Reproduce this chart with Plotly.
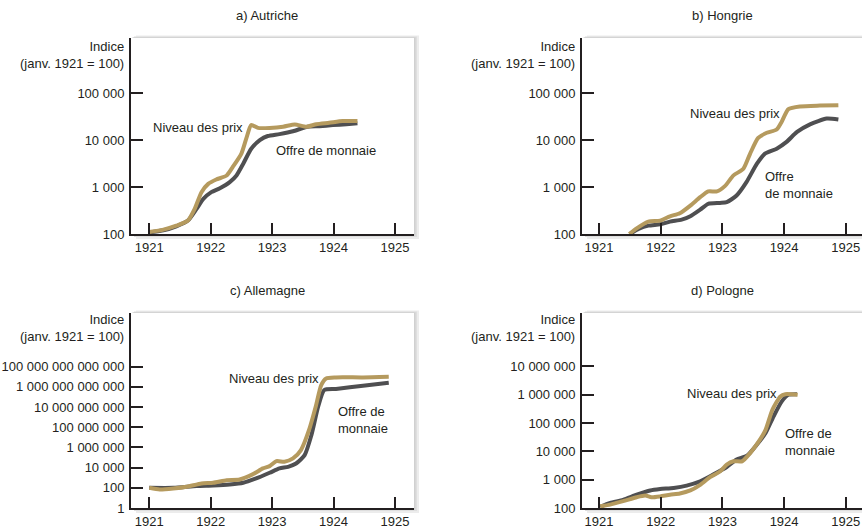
import plotly.graph_objects as go

# ---------------- data ----------------
aut_price_t = [1921.0, 1921.23, 1921.44, 1921.63, 1921.74, 1921.85, 1921.96, 1922.09, 1922.26, 1922.36, 1922.50,
               1922.58, 1922.66, 1922.77, 1922.96, 1923.18, 1923.37, 1923.56, 1923.72, 1923.93, 1924.15, 1924.39]
aut_price_v = [110, 124, 150, 194, 344, 780, 1170, 1450, 1770, 2690, 5180,
               10900, 21000, 18300, 18300, 19400, 21700, 19400, 22000, 23600, 25700, 25700]
aut_money_t = [1921.0, 1921.23, 1921.44, 1921.63, 1921.77, 1921.88, 1922.01, 1922.15, 1922.31, 1922.42, 1922.53,
               1922.66, 1922.80, 1922.93, 1923.12, 1923.34, 1923.56, 1923.77, 1923.99, 1924.21, 1924.39]
aut_money_v = [108, 120, 146, 194, 344, 560, 780, 950, 1280, 1770, 3160,
               6600, 10000, 12300, 13500, 15500, 19200, 19900, 21000, 21900, 22900]

hun_price_t = [1921.49, 1921.61, 1921.80, 1921.99, 1922.15, 1922.31, 1922.48, 1922.64, 1922.77, 1922.91, 1923.04,
               1923.18, 1923.34, 1923.45, 1923.58, 1923.72, 1923.88, 1923.96, 1924.07, 1924.26, 1924.58, 1924.88]
hun_price_v = [100, 132, 184, 193, 239, 277, 404, 610, 810, 810, 1050,
               1780, 2460, 5200, 11200, 14400, 16900, 24600, 46000, 52500, 54800, 56000]
hun_money_t = [1921.50, 1921.64, 1921.80, 1921.99, 1922.15, 1922.34, 1922.48, 1922.64, 1922.77, 1922.96, 1923.07,
               1923.23, 1923.39, 1923.56, 1923.69, 1923.88, 1924.04, 1924.21, 1924.42, 1924.69, 1924.88]
hun_money_v = [100, 128, 151, 161, 184, 203, 239, 330, 440, 460, 476,
               664, 1280, 3160, 5200, 6600, 9200, 15000, 21800, 29000, 27700]

ger_price_t = [1921.0, 1921.17, 1921.39, 1921.61, 1921.85, 1922.04, 1922.26, 1922.47, 1922.69, 1922.85, 1922.96,
               1923.07, 1923.20, 1923.34, 1923.47, 1923.61, 1923.71, 1923.80, 1923.88, 1924.04, 1924.48, 1924.90]
ger_price_v = [100, 68, 85, 126, 270, 316, 575, 676, 2290, 8300, 14100,
               43600, 38000, 81300, 550000, 7.6e7, 1.07e10, 1.5e12, 6.9e12, 8.7e12, 8.7e12, 1.0e13]
ger_money_t = [1921.0, 1921.39, 1921.77, 1922.04, 1922.31, 1922.53, 1922.74, 1922.96, 1923.12, 1923.26, 1923.39,
               1923.53, 1923.64, 1923.75, 1923.85, 1924.04, 1924.48, 1924.90]
ger_money_v = [100, 100, 148, 170, 214, 316, 851, 3090, 8300, 12000, 25700,
               174000, 1.66e7, 1.07e10, 4.9e11, 6.2e11, 1.32e12, 2.57e12]

pol_price_t = [1921.02, 1921.18, 1921.39, 1921.61, 1921.75, 1921.85, 1921.99, 1922.15, 1922.31, 1922.48, 1922.64,
               1922.80, 1922.96, 1923.07, 1923.18, 1923.32, 1923.45, 1923.59, 1923.70, 1923.81, 1923.94, 1924.02, 1924.22]
pol_price_v = [115, 132, 174, 240, 275, 240, 257, 295, 324, 417, 661,
               1230, 1950, 3390, 4470, 4470, 8710, 22400, 57500, 295000, 871000, 1050000, 1000000]
pol_money_t = [1921.02, 1921.18, 1921.39, 1921.61, 1921.83, 1921.99, 1922.21, 1922.42, 1922.64, 1922.85, 1923.07,
               1923.23, 1923.40, 1923.56, 1923.70, 1923.83, 1923.96, 1924.07, 1924.21]
pol_money_v = [110, 151, 195, 295, 417, 468, 513, 617, 871, 1510, 2820,
               5130, 7080, 17400, 44700, 174000, 575000, 1000000, 1050000]

panel_titles = ["a) Autriche", "b) Hongrie", "c) Allemagne", "d) Pologne"]
year_ticks = [1921, 1922, 1923, 1924, 1925]
year_labels = ["1921", "1922", "1923", "1924", "1925"]
yticks_ab = [100, 1000, 10000, 100000]
ylabels_ab = ["100", "1 000", "10 000", "100 000"]
yticks_c = [1, 100, 1e4, 1e6, 1e8, 1e10, 1e12, 1e14]
ylabels_c = ["1", "100", "10 000", "1 000 000", "100 000 000", "10 000 000 000",
             "1 000 000 000 000", "100 000 000 000 000"]
yticks_d = [100, 1000, 1e4, 1e5, 1e6, 1e7]
ylabels_d = ["100", "1 000", "10 000", "100 000", "1 000 000", "10 000 000"]
label_price = "Niveau des prix"
label_money = "Offre de monnaie"
axis_title = "Indice<br>(janv. 1921 = 100)"

# ---------------- styling / layout ----------------
W, H = 862, 531
FONT = "'Liberation Sans', Arial, sans-serif"
TXT = "#231f20"
GOLD = "#b59a5e"
DARK = "#4f4f51"
FS = 13

def px_x(p):
    return p / W

def px_y(p):
    return 1 - p / H

# panel pixel boxes: (left, right, top, bottom)
boxes = [(131, 414, 38, 234), (582, 862, 38, 234), (131, 414, 313, 508), (582, 862, 313, 508)]
xranges = [[1920.702, 1925.311], [1920.724, 1925.263], [1920.702, 1925.311], [1920.724, 1925.263]]
yranges = [[2, 6.18], [2, 6.18], [0, 19.32], [2, 8.89]]
ytv = [(yticks_ab, ylabels_ab), (yticks_ab, ylabels_ab), (yticks_c, ylabels_c), (yticks_d, ylabels_d)]
series = [
    (aut_price_t, aut_price_v, aut_money_t, aut_money_v),
    (hun_price_t, hun_price_v, hun_money_t, hun_money_v),
    (ger_price_t, ger_price_v, ger_money_t, ger_money_v),
    (pol_price_t, pol_price_v, pol_money_t, pol_money_v),
]
# label anchors in data coords (x year, y log10)
price_lbl = [(1921.03, 4.28), (1922.44, 4.58), (1922.27, 12.88), (1922.39, 6.06)]
money_lbl = [(1923.03, 3.79, label_money), (1923.66, 3.04, "Offre<br>de monnaie"),
             (1924.04, 8.72, "Offre de<br>monnaie"), (1923.98, 4.33, "Offre de<br>monnaie")]

fig = go.Figure()
layout = dict(
    width=W, height=H, margin=dict(l=0, r=0, t=0, b=0, pad=0, autoexpand=False),
    paper_bgcolor="white", plot_bgcolor="rgba(0,0,0,0)",
    showlegend=False, font=dict(family=FONT, size=FS, color=TXT),
)
shapes = []
annotations = []

for i in range(4):
    n = "" if i == 0 else str(i + 1)
    xa, ya = "x" + n, "y" + n
    l, r, t, b = boxes[i]
    pt, pv, mt, mv = series[i]
    fig.add_trace(go.Scatter(x=mt, y=mv, xaxis=xa, yaxis=ya, mode="lines",
                             line=dict(color=DARK, width=4, shape="spline", smoothing=0.6)))
    fig.add_trace(go.Scatter(x=pt, y=pv, xaxis=xa, yaxis=ya, mode="lines",
                             line=dict(color=GOLD, width=4, shape="spline", smoothing=0.6)))
    layout["xaxis" + n] = dict(
        domain=[px_x(l), px_x(r)], range=xranges[i], anchor=ya, automargin=False,
        tickvals=year_ticks, ticktext=year_labels, ticks="inside", ticklen=11, tickwidth=2,
        tickcolor=TXT, showline=True, linecolor=TXT, linewidth=2, showgrid=False, zeroline=False,
        tickfont=dict(size=FS, color=TXT), fixedrange=True,
    )
    tv, tt = ytv[i]
    layout["yaxis" + n] = dict(
        domain=[px_y(b), px_y(t)], type="log", range=yranges[i], anchor=xa, automargin=False,
        tickvals=tv, ticktext=tt, ticks="inside", ticklen=12, tickwidth=2, ticklabelstandoff=2,
        tickcolor=TXT, showline=True, linecolor=TXT, linewidth=2, showgrid=False, zeroline=False,
        tickfont=dict(size=FS, color=TXT), fixedrange=True,
    )
    # soft shadow + white plot area
    for off, col in [(5, "#ececec"), (3, "#dedede"), (1.5, "#d0d0d0")]:
        shapes.append(dict(type="rect", xref="paper", yref="paper", layer="below",
                           x0=px_x(l + off), x1=px_x(r + off), y0=px_y(b + off), y1=px_y(t - off / 2),
                           fillcolor=col, line=dict(width=0)))
    shapes.append(dict(type="rect", xref="paper", yref="paper", layer="below",
                       x0=px_x(l), x1=px_x(r), y0=px_y(b), y1=px_y(t),
                       fillcolor="white", line=dict(width=0)))
    # titles
    cx = 267 if i % 2 == 0 else 722
    ty = 16 if i < 2 else 291
    annotations.append(dict(text=panel_titles[i], xref="paper", yref="paper", x=px_x(cx), y=px_y(ty),
                            xanchor="center", yanchor="middle", showarrow=False, font=dict(size=FS, color=TXT)))
    # axis title
    ry = 55 if i < 2 else 328
    annotations.append(dict(text=axis_title, xref="paper", yref="paper", x=px_x(l - 5), y=px_y(ry),
                            xanchor="right", yanchor="middle", align="right", showarrow=False,
                            font=dict(size=FS, color=TXT)))
    # series labels
    annotations.append(dict(text=label_price, xref=xa, yref=ya, x=price_lbl[i][0], y=price_lbl[i][1],
                            xanchor="left", yanchor="middle", showarrow=False, font=dict(size=FS, color=TXT)))
    annotations.append(dict(text=money_lbl[i][2], xref=xa, yref=ya, x=money_lbl[i][0], y=money_lbl[i][1],
                            xanchor="left", yanchor="middle", align="left", showarrow=False,
                            font=dict(size=FS, color=TXT)))

layout["shapes"] = shapes
layout["annotations"] = annotations
fig.update_layout(**layout)
fig.write_html("out.html", config={"displayModeBar": False, "staticPlot": True},
               post_script="document.body.style.margin='0';document.body.style.overflow='hidden';")
